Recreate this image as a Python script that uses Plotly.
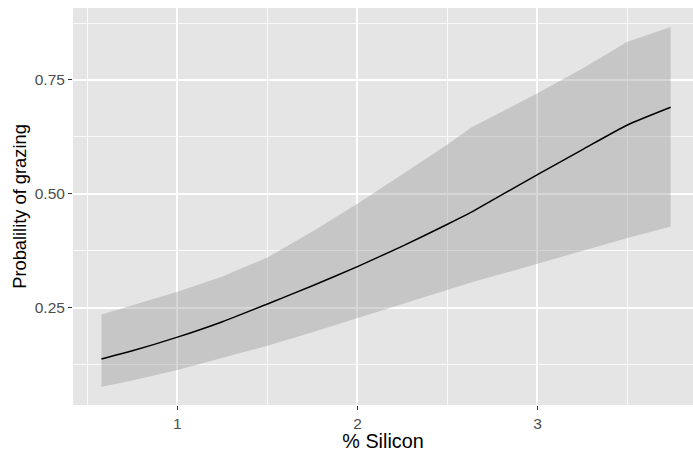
import plotly.graph_objects as go

silicon = [0.578, 0.75, 1.0, 1.25, 1.5, 1.75, 2.0, 2.25, 2.5, 2.63, 2.75, 3.0, 3.25, 3.5, 3.74]
prob_fit = [0.137, 0.155, 0.185, 0.219, 0.258, 0.298, 0.340, 0.385, 0.433, 0.459, 0.486, 0.542, 0.597, 0.651, 0.690]
prob_upper = [0.235, 0.255, 0.285, 0.318, 0.360, 0.417, 0.478, 0.543, 0.608, 0.645, 0.670, 0.721, 0.775, 0.834, 0.866]
prob_lower = [0.076, 0.090, 0.113, 0.140, 0.166, 0.196, 0.227, 0.258, 0.290, 0.305, 0.318, 0.346, 0.374, 0.403, 0.428]

x_title = "% Silicon"
y_title = "Probalility of grazing"

FONT = "Liberation Sans, Arial, sans-serif"

fig = go.Figure()
fig.add_trace(go.Scatter(x=silicon, y=prob_lower, mode="lines", line=dict(width=0),
                         hoverinfo="skip", showlegend=False))
fig.add_trace(go.Scatter(x=silicon, y=prob_upper, mode="lines", line=dict(width=0),
                         fill="tonexty", fillcolor="rgba(153,153,153,0.4)",
                         hoverinfo="skip", showlegend=False))
fig.add_trace(go.Scatter(x=silicon, y=prob_fit, mode="lines",
                         line=dict(color="black", width=1.5, shape="spline", smoothing=0.6),
                         showlegend=False))

fig.update_layout(
    width=693, height=452,
    margin=dict(l=73, r=0, t=8, b=47),
    paper_bgcolor="white",
    plot_bgcolor="#E5E5E5",
    font=dict(family=FONT),
    showlegend=False,
)
fig.update_xaxes(
    range=[0.42, 3.864], dtick=1, tick0=0,
    showgrid=True, gridcolor="white", gridwidth=1.5,
    minor=dict(dtick=0.5, tick0=0, showgrid=True, gridcolor="rgba(255,255,255,0.8)", gridwidth=0.75),
    zeroline=False, showline=False,
    ticks="outside", ticklen=4, tickwidth=1, tickcolor="#333333",
    tickfont=dict(size=15.5, color="#4D4D4D", family=FONT),
    title=dict(text=x_title, font=dict(size=19.8, color="black", family=FONT), standoff=8),
)
fig.update_yaxes(
    range=[0.036, 0.908], dtick=0.25, tick0=0, tickformat=".2f",
    showgrid=True, gridcolor="white", gridwidth=1.5,
    minor=dict(dtick=0.125, tick0=0, showgrid=True, gridcolor="rgba(255,255,255,0.8)", gridwidth=0.75),
    zeroline=False, showline=False,
    ticks="outside", ticklen=4, tickwidth=1, tickcolor="#333333",
    tickfont=dict(size=15.5, color="#4D4D4D", family=FONT),
    title=dict(text=y_title, font=dict(size=18.3, color="black", family=FONT), standoff=3),
)

fig.write_html("out.html")
